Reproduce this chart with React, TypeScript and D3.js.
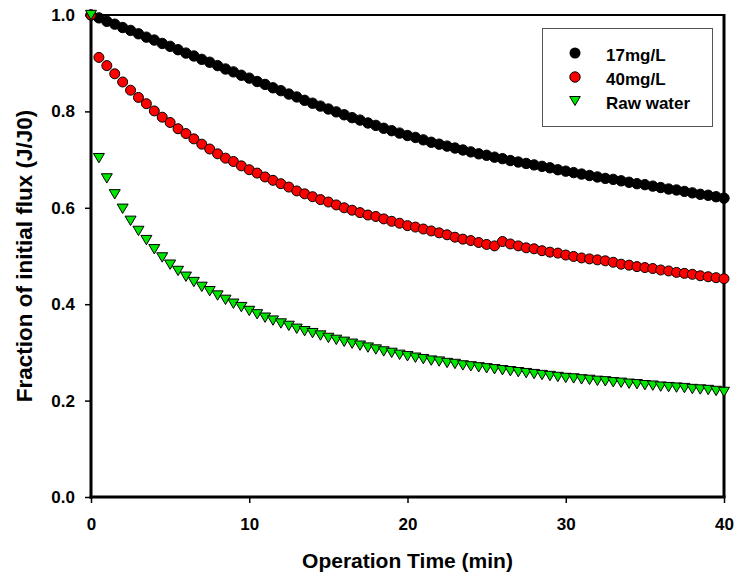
import React, { useEffect, useRef } from "react";
import * as d3 from "d3";

// sampling times (min): one reading every 0.5 min
const times = d3.range(0, 40.001, 0.5);

// fraction of initial flux J/J0
const conc17 = [
  1.0, 0.994, 0.987, 0.981, 0.974, 0.968, 0.961, 0.954, 0.948, 0.941,
  0.935, 0.928, 0.921, 0.915, 0.908, 0.902, 0.895, 0.888, 0.882, 0.875,
  0.869, 0.862, 0.856, 0.849, 0.843, 0.836, 0.83, 0.823, 0.817, 0.811,
  0.805, 0.799, 0.793, 0.787, 0.782, 0.776, 0.771, 0.765, 0.76, 0.755,
  0.75, 0.746, 0.741, 0.736, 0.732, 0.728, 0.724, 0.72, 0.716, 0.712,
  0.709, 0.705, 0.702, 0.698, 0.695, 0.692, 0.689, 0.686, 0.683, 0.679,
  0.676, 0.673, 0.67, 0.667, 0.664, 0.661, 0.659, 0.656, 0.653, 0.65,
  0.648, 0.645, 0.642, 0.639, 0.637, 0.634, 0.631, 0.628, 0.626, 0.623,
  0.62,
];
const conc40 = [
  1.0, 0.912, 0.895, 0.878, 0.861, 0.844, 0.829, 0.816, 0.801, 0.788,
  0.777, 0.764, 0.754, 0.743, 0.732, 0.722, 0.712, 0.703, 0.696, 0.687,
  0.679, 0.672, 0.664, 0.657, 0.65, 0.643, 0.635, 0.629, 0.623, 0.617,
  0.612, 0.606, 0.6, 0.595, 0.59, 0.585, 0.582, 0.577, 0.572, 0.568,
  0.563, 0.56, 0.556, 0.552, 0.548, 0.544, 0.539, 0.535, 0.532, 0.528,
  0.524, 0.521, 0.53, 0.525, 0.521, 0.517, 0.515, 0.511, 0.508, 0.506,
  0.502, 0.499, 0.496, 0.494, 0.492, 0.49, 0.487, 0.483, 0.481, 0.478,
  0.476, 0.474, 0.471, 0.469, 0.466, 0.464, 0.462, 0.459, 0.457, 0.455,
  0.453,
];
const rawWater = [
  1.0, 0.703, 0.661, 0.628, 0.598, 0.573, 0.552, 0.533, 0.514, 0.497,
  0.482, 0.469, 0.457, 0.446, 0.436, 0.427, 0.418, 0.409, 0.401, 0.394,
  0.386, 0.379, 0.372, 0.366, 0.36, 0.355, 0.349, 0.344, 0.34, 0.335,
  0.33, 0.326, 0.322, 0.318, 0.314, 0.31, 0.306, 0.302, 0.299, 0.295,
  0.292, 0.289, 0.286, 0.283, 0.281, 0.278, 0.276, 0.273, 0.271, 0.269,
  0.267, 0.265, 0.263, 0.261, 0.259, 0.257, 0.255, 0.253, 0.251, 0.249,
  0.247, 0.246, 0.244, 0.243, 0.241, 0.24, 0.238, 0.237, 0.235, 0.234,
  0.232, 0.231, 0.229, 0.228, 0.227, 0.226, 0.224, 0.223, 0.222, 0.22,
  0.218,
];

const seriesNames = ["17mg/L", "40mg/L", "Raw water"];
const xTicks = [0, 10, 20, 30, 40];
const yTicks = [0, 0.2, 0.4, 0.6, 0.8, 1.0];

const font = "'Liberation Sans', Arial, Helvetica, sans-serif";

// down-pointing triangle centred on its bounding box
const triangle = (s: number) => `M${-s},${-s * 0.85}L${s},${-s * 0.85}L0,${s * 0.85}Z`;

export default function App() {
  const ref = useRef<SVGSVGElement>(null);

  useEffect(() => {
    const svg = d3.select(ref.current);
    svg.selectAll("*").remove();

    const x = d3.scaleLinear().domain([0, 40]).range([91, 724]);
    const y = d3.scaleLinear().domain([0, 1]).range([497, 15]);

    // axes (ticks + labels only, frame drawn by hand)
    const yAxis = svg
      .append("g")
      .attr("transform", `translate(${x(0)},0)`)
      .call(d3.axisLeft(y).tickValues(yTicks).tickFormat(d3.format(".1f")).tickSize(6).tickPadding(10));
    yAxis.select(".domain").remove();

    const xAxis = svg
      .append("g")
      .attr("transform", `translate(0,${y(0)})`)
      .call(d3.axisBottom(x).tickValues(xTicks).tickFormat(d3.format("d")).tickSize(6).tickPadding(15));
    xAxis.select(".domain").remove();

    [yAxis, xAxis].forEach((g) => {
      g.attr("font-family", font).attr("font-size", 17).attr("font-weight", "bold");
      g.selectAll("line").attr("stroke", "#000").attr("stroke-width", 1.5);
      g.selectAll("text").attr("fill", "#000");
    });

    // frame
    const frame = svg.append("g").attr("stroke", "#000").attr("fill", "none");
    frame.append("line").attr("x1", x(0)).attr("x2", x(40)).attr("y1", y(1)).attr("y2", y(1)).attr("stroke-width", 2);
    frame.append("line").attr("x1", x(40)).attr("x2", x(40)).attr("y1", y(1) - 1).attr("y2", y(0)).attr("stroke-width", 3);
    frame.append("line").attr("x1", x(0)).attr("x2", x(0)).attr("y1", y(1) - 1).attr("y2", y(0) + 1.5).attr("stroke-width", 3);
    frame.append("line").attr("x1", x(0) - 1.5).attr("x2", x(40) + 1.5).attr("y1", y(0)).attr("y2", y(0)).attr("stroke-width", 3);

    // axis titles
    svg
      .append("text")
      .attr("x", (x(0) + x(40)) / 2)
      .attr("y", 568)
      .attr("text-anchor", "middle")
      .attr("font-family", font)
      .attr("font-size", 21)
      .attr("font-weight", "bold")
      .text("Operation Time (min)");

    svg
      .append("text")
      .attr("transform", `translate(32,${(y(0) + y(1)) / 2}) rotate(-90)`)
      .attr("text-anchor", "middle")
      .attr("font-family", font)
      .attr("font-size", 22.5)
      .attr("font-weight", "bold")
      .text("Fraction of initial flux (J/J0)");

    // legend
    const legend = svg.append("g");
    legend
      .append("rect")
      .attr("x", 542.5)
      .attr("y", 28.5)
      .attr("width", 170)
      .attr("height", 98)
      .attr("fill", "#fff")
      .attr("stroke", "#555")
      .attr("stroke-width", 1);

    const legendY = [53, 77, 101];
    seriesNames.forEach((name, i) => {
      const cy = legendY[i];
      if (i === 0) {
        legend.append("circle").attr("cx", 575).attr("cy", cy).attr("r", 5.5).attr("fill", "#000");
      } else if (i === 1) {
        legend.append("circle").attr("cx", 575).attr("cy", cy).attr("r", 5.2).attr("fill", "#ff0000").attr("stroke", "#000").attr("stroke-width", 1);
      } else {
        legend.append("path").attr("transform", `translate(575,${cy})`).attr("d", triangle(5.3)).attr("fill", "#00e600").attr("stroke", "#000").attr("stroke-width", 1);
      }
      legend
        .append("text")
        .attr("x", 606)
        .attr("y", cy + 7.5)
        .attr("font-family", font)
        .attr("font-size", 17)
        .attr("font-weight", "bold")
        .text(name);
    });

    // data
    const marks = svg.append("g");
    marks
      .selectAll("circle.s17")
      .data(conc17)
      .join("circle")
      .attr("class", "s17")
      .attr("cx", (_, i) => x(times[i]))
      .attr("cy", (d) => y(d))
      .attr("r", 5.2)
      .attr("fill", "#000")
      .attr("stroke", "#000")
      .attr("stroke-width", 1);

    marks
      .selectAll("circle.s40")
      .data(conc40)
      .join("circle")
      .attr("class", "s40")
      .attr("cx", (_, i) => x(times[i]))
      .attr("cy", (d) => y(d))
      .attr("r", 5)
      .attr("fill", "#ff0000")
      .attr("stroke", "#000")
      .attr("stroke-width", 1);

    marks
      .selectAll("path.raw")
      .data(rawWater)
      .join("path")
      .attr("class", "raw")
      .attr("transform", (d, i) => `translate(${x(times[i])},${y(d)})`)
      .attr("d", triangle(5.5))
      .attr("fill", "#00e600")
      .attr("stroke", "#000")
      .attr("stroke-width", 1);
  }, []);

  return (
    <svg
      ref={ref}
      width={737}
      height={583}
      style={{ position: "absolute", left: 0, top: 0, background: "#fff" }}
    />
  );
}
